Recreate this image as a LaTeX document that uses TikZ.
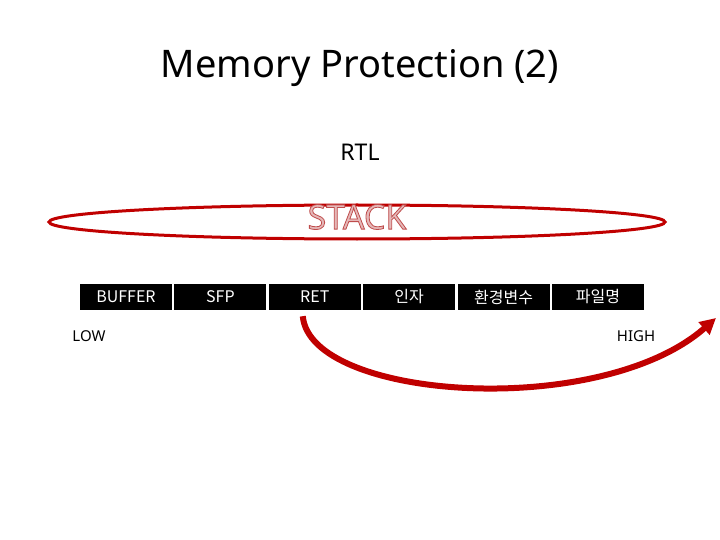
\documentclass[tikz,border=0pt]{standalone}
\usepackage{fontspec}
\setmainfont{Noto Sans}
\newfontfamily\kor{Noto Sans CJK KR}
\usetikzlibrary{arrows.meta,positioning}
\definecolor{stackred}{RGB}{192,0,0}
\definecolor{stackpink}{RGB}{230,185,184}
\begin{document}
\begin{tikzpicture}
	[ x=1pt, y=-1pt,
		cell/.style={rectangle,fill=black,text=white,minimum width=92pt,minimum height=26pt,inner sep=0pt,font=\kor\fontsize{16}{16}\selectfont},
		endlabel/.style={font=\fontsize{15}{15}\selectfont},
		jump/.style={-{Triangle[length=16pt,width=16pt]},line width=6pt,stackred}]
	\useasboundingbox (0,0) rectangle (720,540);

	\node (title) at (360,68) {\fontsize{38}{38}\selectfont Memory Protection (2)};
	\node (rtl) at (360,152) {\fontsize{23}{23}\selectfont RTL};

	\draw[stackred,line width=3pt] (357,222) ellipse (308pt and 17pt);
	\node (stack) at (357,217) {\fontsize{34}{34}\selectfont\bfseries\special{pdf:code 2 Tr 0.8 w 0.75 0.3 0.3 RG 0.9 0.72 0.72 rg}STACK\special{pdf:code 0 Tr}};

	% memory cells
	\node[cell] (buffer) at (126,297) {BUFFER};
	\node[cell,right=2pt of buffer] (sfp) {SFP};
	\node[cell,right=2pt of sfp] (ret) {RET};
	\node[cell,right=2pt of ret] (arg) {인자};
	\node[cell,right=2pt of arg] (env) {환경변수};
	\node[cell,right=2pt of env] (file) {파일명};

	\node[endlabel] (low) at (89,336) {LOW};
	\node[endlabel] (high) at (636,336) {HIGH};

	\coordinate (target) at (716,318);
	\draw[jump] ([xshift=-12pt,yshift=-6pt]ret.south) .. controls (310,400) and (600,420) .. (target);
\end{tikzpicture}
\end{document}
